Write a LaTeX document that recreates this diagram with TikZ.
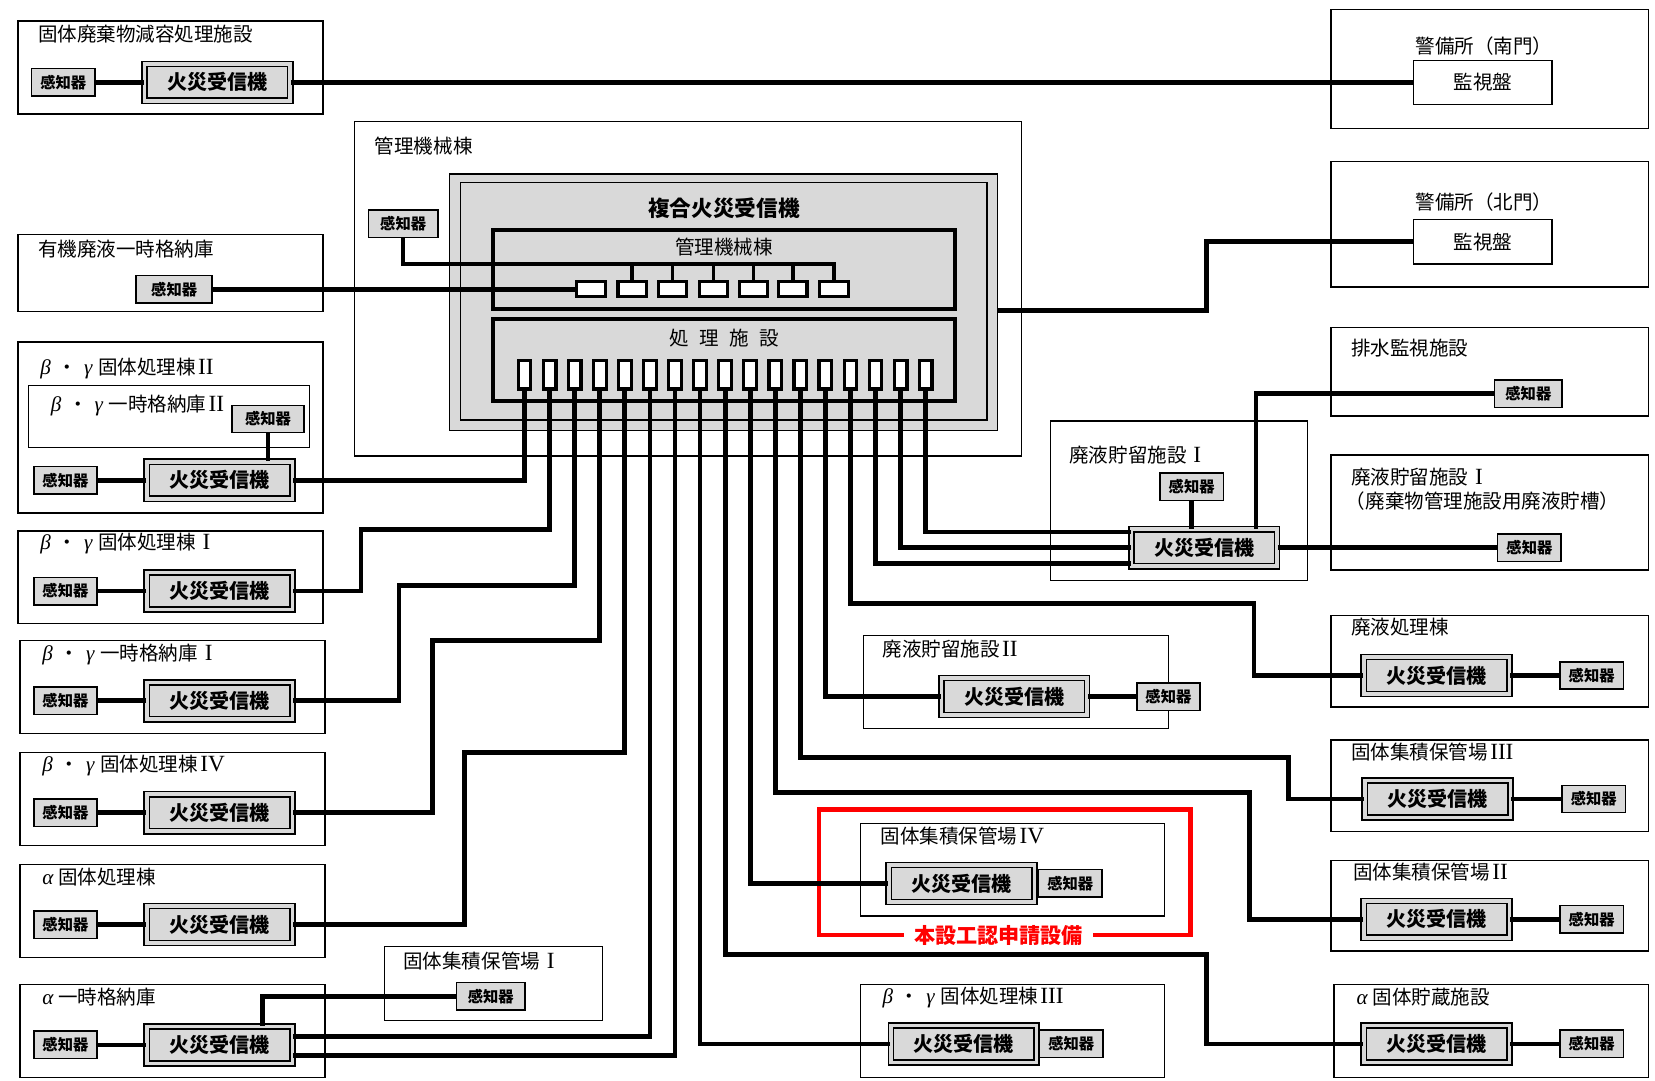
\documentclass[tikz,border=0pt]{standalone}
\usepackage{fontspec}
\setmainfont{Noto Sans CJK JP}
\newfontfamily\lserif{Liberation Serif}
\usetikzlibrary{fit,calc}
\newcommand\gk[1]{{\lserif\itshape\fontsize{20}{20}\selectfont #1}}
\newcommand\RN[1]{\hspace{.12em}{\lserif\fontsize{22}{22}\selectfont #1}}
\newcommand\RNI{\hspace{.35em}{\lserif\fontsize{22}{22}\selectfont I}}
\newcommand\bgm{\gk{β}\hspace{.35em}・\hspace{.35em}\gk{γ}\hspace{.3em}}
\newcommand\alm{\gk{α}\hspace{.25em}}
\definecolor{boxgray}{RGB}{217,217,217}
\begin{document}
\begin{tikzpicture}[x=1pt,y=-1pt,
  area/.style={draw, line width=1.3pt, inner sep=0pt},
  ttl/.style={anchor=west, inner sep=0pt, font=\fontsize{18.5}{20}\selectfont},
  rcv/.style={draw, fill=boxgray, line width=1.4pt, double=boxgray, double distance=3.5pt,
    minimum width=138pt, minimum height=35pt, inner sep=0pt, font=\bfseries\fontsize{19}{20}\selectfont},
  sens/.style={draw, fill=boxgray, line width=1.4pt, minimum width=60pt, minimum height=26pt,
    inner sep=0pt, font=\bfseries\fontsize{14.5}{16}\selectfont},
  panel/.style={draw, fill=white, line width=1.2pt, minimum width=131pt, minimum height=42pt,
    inner sep=0pt, font=\fontsize{18.5}{20}\selectfont},
  port/.style={draw, fill=white, line width=3pt, minimum width=12pt, minimum height=27pt, inner sep=0pt},
  smallbox/.style={draw, fill=white, line width=3pt, minimum width=27pt, minimum height=14pt, inner sep=0pt},
  wire/.style={line width=4.5pt},
  bus/.style={line width=3.5pt}]
\useasboundingbox (0,0) rectangle (1568,1024);

% ---------- left column areas ----------
\node[area, fit={(17,20)(306,108)}] (aA) {};
\node[ttl] (tA) at (36,32) {固体廃棄物減容処理施設};
\node[area, fit={(17,222)(306,295)}] (aB) {};
\node[ttl] (tB) at (36,236) {有機廃液一時格納庫};
\node[area, fit={(17,324)(306,486)}] (aC) {};
\node[ttl] (tC) at (38,349) {\bgm 固体処理棟\RN{II}};
\node[area, fit={(27,365)(293,424)}] (aC1) {};
\node[ttl] (tC1) at (48,384) {\bgm 一時格納庫\RN{II}};
\node[area, fit={(17,503)(306,591)}] (aD) {};
\node[ttl] (tD) at (38,515) {\bgm 固体処理棟\RNI};
\node[area, fit={(19,607)(308,695)}] (aE) {};
\node[ttl] (tE) at (40,620) {\bgm 一時格納庫\RNI};
\node[area, fit={(19,713)(308,801)}] (aF) {};
\node[ttl] (tF) at (40,725) {\bgm 固体処理棟\RN{IV}};
\node[area, fit={(19,819)(308,907)}] (aG) {};
\node[ttl] (tG) at (40,831) {\alm 固体処理棟};
\node[area, fit={(19,933)(308,1021)}] (aH) {};
\node[ttl] (tH) at (40,945) {\alm 一時格納庫};
\node[area, fit={(364,897)(571,967)}] (aI) {};
\node[ttl] (tI) at (382,911) {固体集積保管場\RNI};

% ---------- centre ----------
\node[area, fit={(336,115)(968,432)}] (aMg) {};
\node[ttl] (tMg) at (355,138) {管理機械棟};
\node[area, fit={(818,602)(1107,690)}] (aW2) {};
\node[ttl] (tW2) at (836,615) {廃液貯留施設\RN{II}};
\node[draw=red, line width=4pt, inner sep=0pt, fit={(776,767)(1128,886)}] (redbox) {};
\node[area, fit={(815,780)(1103,868)}] (aK4) {};
\node[ttl] (tK4) at (834,792) {固体集積保管場\RN{IV}};
\node[area, fit={(815,933)(1103,1021)}] (aB3) {};
\node[ttl] (tB3) at (836,945) {\bgm 固体処理棟\RN{III}};
\node[area, fit={(995,399)(1239,550)}] (aW1) {};
\node[ttl] (tW1) at (1013,431) {廃液貯留施設\RNI};

% ---------- right column ----------
\node[area, fit={(1261,9)(1562,122)}] (aS) {};
\node[font=\fontsize{18.5}{20}\selectfont, inner sep=0pt] (tS) at (1406,44) {警備所（南門）};
\node[area, fit={(1261,153)(1562,272)}] (aN) {};
\node[font=\fontsize{18.5}{20}\selectfont, inner sep=0pt] (tN) at (1406,191) {警備所（北門）};
\node[area, fit={(1261,310)(1562,394)}] (aHS) {};
\node[ttl] (tHS) at (1280,330) {排水監視施設};
\node[area, fit={(1261,431)(1562,540)}] (aWT) {};
\node[ttl] (tWT) at (1280,452) {廃液貯留施設\RNI};
\node[ttl] (tWT2) at (1275,475) {（廃棄物管理施設用廃液貯槽）};
\node[area, fit={(1261,583)(1562,670)}] (aSS) {};
\node[ttl] (tSS) at (1280,594) {廃液処理棟};
\node[area, fit={(1261,701)(1562,788)}] (aK3) {};
\node[ttl] (tK3) at (1280,713) {固体集積保管場\RN{III}};
\node[area, fit={(1261,815)(1562,901)}] (aK2) {};
\node[ttl] (tK2) at (1282,826) {固体集積保管場\RN{II}};
\node[area, fit={(1264,933)(1562,1021)}] (aAS) {};
\node[ttl] (tAS) at (1285,945) {\alm 固体貯蔵施設};

% ---------- composite receiver ----------
\node[draw, fill=boxgray, line width=1.3pt, inner sep=0pt, fit={(426,165)(945,408)}] (cmp) {};
\node[draw, line width=1.3pt, inner sep=0pt, fit={(436,173)(935,398)}] (cmpin) {};
\node[font=\bfseries\fontsize{20.5}{22}\selectfont, inner sep=0pt] (cmpT) at (686,197) {複合火災受信機};
\node[draw, line width=3.5pt, inner sep=0pt, fit={(467,218)(905,293)}] (subM) {};
\node[font=\fontsize{18.5}{20}\selectfont, inner sep=0pt] (subMT) at (686,234) {管理機械棟};
\node[draw, line width=3.5pt, inner sep=0pt, fit={(467,302)(905,380)}] (subS) {};
\node[font=\fontsize{18.5}{20}\selectfont, inner sep=0pt] (subST) at (686,320) {処\hspace{10pt}理\hspace{10pt}施\hspace{10pt}設};
\foreach \i/\x in {1/560,2/599,3/637,4/676,5/714,6/751,7/790}
  \node[smallbox] (m\i) at (\x,274) {};
\foreach \i in {1,...,17}
  \node[port] (p\i) at ({497+23.75*(\i-1)},355) {};

% ---------- receivers ----------
\node[rcv] (rA) at (206,78) {火災受信機};
\node[rcv] (rC) at (208,455) {火災受信機};
\node[rcv] (rD) at (208,560) {火災受信機};
\node[rcv] (rE) at (208,664) {火災受信機};
\node[rcv] (rF) at (208,770) {火災受信機};
\node[rcv] (rG) at (208,876) {火災受信機};
\node[rcv] (rH) at (208,990) {火災受信機};
\node[rcv] (rW1) at (1141,519) {火災受信機};
\node[rcv] (rW2) at (961,660) {火災受信機};
\node[rcv] (rK4) at (911,837) {火災受信機};
\node[rcv] (rB3) at (913,989) {火災受信機};
\node[rcv] (rSS) at (1361,640) {火災受信機};
\node[rcv] (rK3) at (1362,757) {火災受信機};
\node[rcv] (rK2) at (1361,871) {火災受信機};
\node[rcv] (rAS) at (1361,989) {火災受信機};

% ---------- sensors ----------
\node[sens] (sA) at (60,78) {感知器};
\node[sens, minimum width=72pt] (sB) at (165,274) {感知器};
\node[sens, minimum width=66pt] (sMg) at (382,212) {感知器};
\node[sens, minimum width=68pt] (sC1) at (254,397) {感知器};
\node[sens] (sC) at (62,455) {感知器};
\node[sens] (sD) at (62,560) {感知器};
\node[sens] (sE) at (62,664) {感知器};
\node[sens] (sF) at (62,770) {感知器};
\node[sens] (sG) at (62,876) {感知器};
\node[sens] (sH) at (62,990) {感知器};
\node[sens, minimum width=65pt] (sI) at (465,944) {感知器};
\node[sens, minimum width=64pt] (sHS) at (1448,373) {感知器};
\node[sens] (sW1) at (1129,461) {感知器};
\node[sens] (sWT) at (1449,519) {感知器};
\node[sens] (sSS) at (1508,640) {感知器};
\node[sens] (sK3) at (1510,757) {感知器};
\node[sens] (sK2) at (1508,871) {感知器};
\node[sens] (sAS) at (1508,989) {感知器};
\node[sens] (sW2) at (1107,660) {感知器};
\node[sens] (sK4) at (1014,837) {感知器};
\node[sens] (sB3) at (1015,989) {感知器};

% ---------- monitor panels ----------
\node[panel] (kS) at (1405,78) {監視盤};
\node[panel] (kN) at (1405,229) {監視盤};

% ---------- red label ----------
\node[fill=white, text=red, inner xsep=10pt, inner ysep=1pt, font=\bfseries\fontsize{20}{22}\selectfont] (redT) at (946,886) {本設工認申請設備};

% ---------- wires ----------
\draw[wire] (sA) -- (rA);
\draw[wire] (rA) -- (kS);
\draw[wire] (sB) -- (m1);
\draw[bus] (sMg.south) |- (m7.north |- 0,250) -- (m7.north);
\foreach \i in {2,...,6} \draw[bus] (m\i.north) -- (m\i.north |- 0,250);
\draw[wire] ([yshift=-7.5pt]cmp.east) -| (1143,229) -- (kN.west);

\draw[wire] (sC1.south) -- (sC1.south |- rC.north);
\draw[wire] (sC) -- (rC);
\draw[wire] (p1.south) |- (rC.east);
\draw[wire] (sD) -- (rD);
\draw[wire] (p2.south) |- (342,502) |- (rD.east);
\draw[wire] (sE) -- (rE);
\draw[wire] (p3.south) |- (378,555) |- (rE.east);
\draw[wire] (sF) -- (rF);
\draw[wire] (p4.south) |- (410,607) |- (rF.east);
\draw[wire] (sG) -- (rG);
\draw[wire] (p5.south) |- (440,713) |- (rG.east);
\draw[wire] (sH) -- (rH);
\draw[wire] ([xshift=41pt]rH.north) |- (sI.west);
\draw[wire] (p6.south) |- ([yshift=8pt]rH.east);
\draw[wire] (p7.south) |- ([yshift=-10pt]rH.east);

\draw[wire] (p8.south) |- (rB3.west);
\draw[wire] (p9.south) |- (1143,904) |- (rAS.west);
\draw[wire] (rAS) -- (sAS);
\draw[wire] (p10.south) |- (rK4.west);
\draw[wire] (p11.south) |- (1184,751) |- (rK2.west);
\draw[wire] (rK2) -- (sK2);
\draw[wire] (p12.south) |- (1221,718) |- (rK3.west);
\draw[wire] (rK3) -- (sK3);
\draw[wire] (p13.south) |- (rW2.west);
\draw[wire] (rW2) -- (sW2);
\draw[wire] (p14.south) |- (1188,572) |- (rSS.west);
\draw[wire] (rSS) -- (sSS);
\draw[wire] (p15.south) |- ([yshift=-15pt]rW1.west);
\draw[wire] (p16.south) |- (rW1.west);
\draw[wire] (p17.south) |- ([yshift=15pt]rW1.west);
\draw[wire] (sW1.south) -- (sW1.south |- rW1.north);
\draw[wire] ([xshift=49pt]rW1.north) |- (sHS.west);
\draw[wire] (rW1) -- (sWT);
\end{tikzpicture}
\end{document}
